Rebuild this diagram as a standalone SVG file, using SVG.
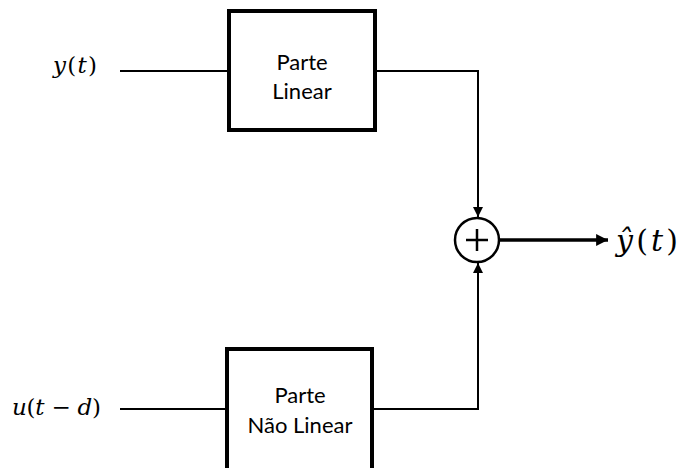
<svg xmlns="http://www.w3.org/2000/svg" width="680" height="468" viewBox="0 0 680 468">
  <style>
    .box { fill: #ffffff; stroke: #000000; stroke-width: 4; }
    .wire { fill: none; stroke: #000000; stroke-width: 2; }
    .out { fill: none; stroke: #000000; stroke-width: 3.5; }
    .lbl { font-family: Lato, "Liberation Sans", sans-serif; font-size: 22px; fill: #000000; text-anchor: middle; }
    .math { font-family: "DejaVu Serif", "Liberation Serif", serif; font-size: 23px; fill: #000000; }
    .big { font-size: 30px; }
    .it { font-style: italic; }
  </style>
  <defs>
    <marker id="arr" viewBox="0 0 10 10" refX="10" refY="5" markerWidth="5" markerHeight="5" markerUnits="strokeWidth" orient="auto">
      <path d="M0,0 L10,5 L0,10 z" fill="#000000"/>
    </marker>
    <marker id="arrBig" viewBox="0 0 10 10" refX="10" refY="5" markerWidth="4" markerHeight="3.4" markerUnits="strokeWidth" orient="auto">
      <path d="M0,0 L10,5 L0,10 z" fill="#000000"/>
    </marker>
  </defs>

  <g id="connectors">
    <line class="wire" x1="120" y1="71" x2="229" y2="71"/>
    <polyline class="wire" points="375,71 478,71 478,217" marker-end="url(#arr)"/>
    <line class="wire" x1="120" y1="409" x2="227" y2="409"/>
    <polyline class="wire" points="372,409 478,409 478,263" marker-end="url(#arr)"/>
    <line class="out" x1="499" y1="240" x2="608" y2="240" marker-end="url(#arrBig)"/>
  </g>

  <g id="input-y">
    <text class="math" x="53" y="73" textLength="44" lengthAdjust="spacing"><tspan class="it">y</tspan>(<tspan class="it">t</tspan>)</text>
  </g>

  <g id="input-u">
    <text class="math" x="12" y="415" textLength="89" lengthAdjust="spacing"><tspan class="it">u</tspan>(<tspan class="it">t</tspan> − <tspan class="it">d</tspan>)</text>
  </g>

  <g id="linear">
    <rect class="box" x="229" y="11" width="146" height="119"/>
    <text class="lbl" x="302" y="70">Parte</text>
    <text class="lbl" x="302" y="99">Linear</text>
  </g>

  <g id="nonlinear">
    <rect class="box" x="227" y="349" width="145" height="125"/>
    <text class="lbl" x="300" y="403">Parte</text>
    <text class="lbl" x="300" y="433">Não Linear</text>
  </g>

  <g id="sum">
    <circle cx="477" cy="240" r="22" fill="#ffffff" stroke="#000000" stroke-width="2.5"/>
    <line x1="466" y1="240" x2="488" y2="240" stroke="#000000" stroke-width="2.5"/>
    <line x1="477" y1="229" x2="477" y2="251" stroke="#000000" stroke-width="2.5"/>
  </g>

  <g id="output">
    <text class="math big" x="616" y="251" textLength="62" lengthAdjust="spacing"><tspan class="it">ŷ</tspan>(<tspan class="it">t</tspan>)</text>
  </g>
</svg>
